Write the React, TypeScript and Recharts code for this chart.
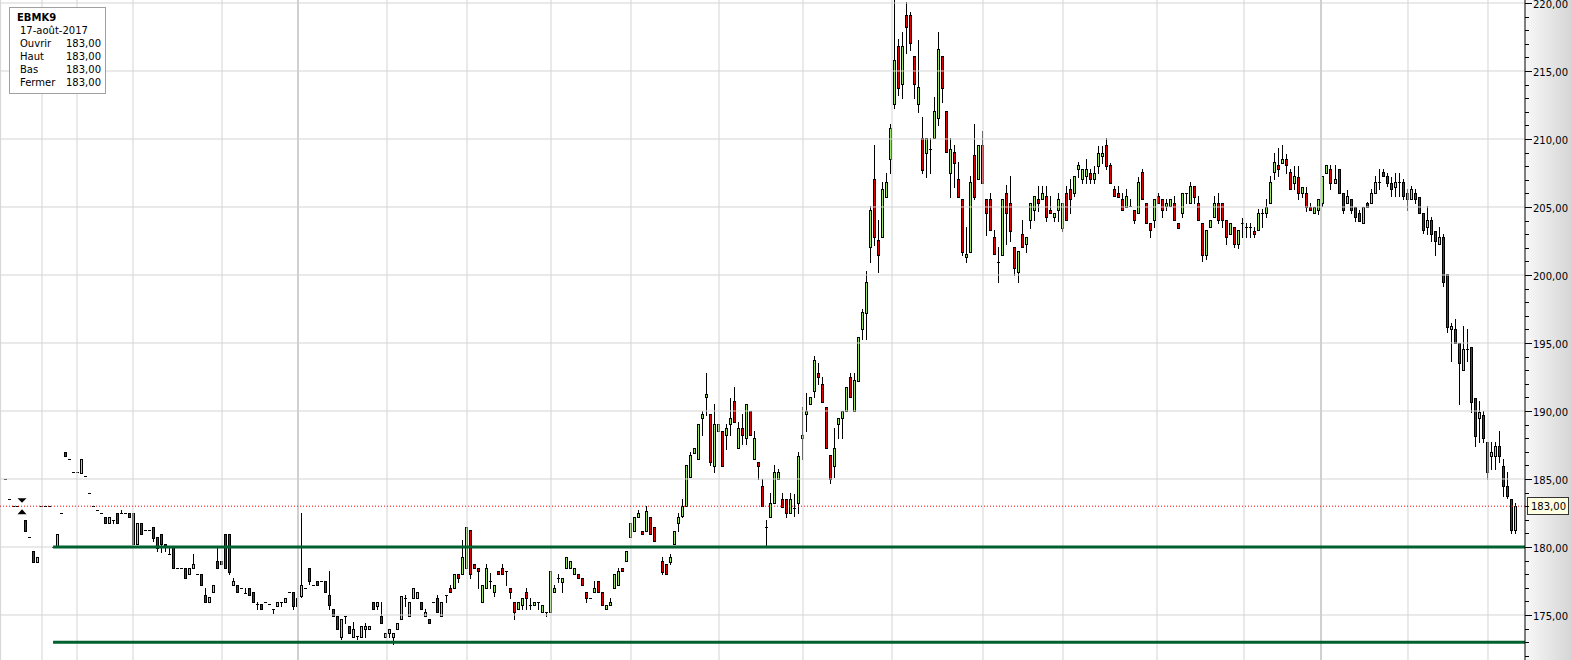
import React from "react";
import {
  ComposedChart,
  Bar,
  XAxis,
  YAxis,
  ReferenceLine,
  ReferenceDot,
} from "recharts";

// EBMK9 daily candles, slot 1 .. 378 (null = no trade)
const opens: (number | null)[] = [
  185, 183.5, 183, 183, null, 182.0, 180.7, 179.7, 178.9, 183,
  183, 183, 180.0, 180.0, 182.48, 186.96, 186.47, 185.51, 185.51, 185.46,
  185.22, 183.99, 183.0, 182.72, 182.48, 182.18, 181.74, 182.0, 182.48, 182.48,
  182.48, 182.48, 182.48, 180.2, 181.74, 181.25, 181.25, 181.45, 180.71, 180.93,
  180.2, 179.5, 180.0, 178.43, 178.43, 178.43, 177.99, 178.43, 178.0, 178.0,
  176.47, 175.93, 176.67, 178.97, 178.97, 180.93, 180.93, 177.18, 177.18, 176.96,
  176.6, 176.96, 176.67, 175.79, 175.79, 175.96, 175.79, 175.42, 175.68, 175.93,
  175.93, 176.67, 176.67, 175.68, 176.42, 176.96, 178.43, 177.2, 177.52, 177.52,
  177.52, 176.47, 175.44, 174.95, 173.4, 174.95, 174.19, 173.4, 173.46, 173.4,
  173.95, 173.95, 175.93, 175.68, 174.95, 173.4, 173.7, 173.4, 173.95, 174.68,
  176.23, 174.95, 176.23, 176.23, 175.93, 174.95, 174.68, 175.93, 176.23, 174.95,
  176.47, 176.96, 176.96, 177.99, 177.99, 178.43, 181.25, 178.75, 178.43, 175.93,
  176.96, 177.52, 176.67, 178.24, 178.43, 178.24, 176.96, 175.93, 175.42, 175.74,
  176.67, 175.74, 175.74, 175.93, 175.2, 175.2, 175.2, 176.67, 177.7, 177.45,
  178.43, 178.43, 177.99, 177.99, 177.7, 176.67, 176.23, 176.67, 177.52, 176.67,
  175.42, 175.74, 176.96, 177.2, 178.43, 178.97, 180.71, 181.2, 182.18, 181.2,
  181.2, 182.18, 181.45, 180.1, 178.97, 178.72, 178.93, 180.2, 181.74, 182.3,
  183.0, 185.17, 186.93, 186.45, 189.46, 191.0, 189.78, 185.98, 188.53, 188.53,
  188.24, 189.04, 190.76, 187.26, 188.73, 187.99, 190.0, 186.45, 186.23, 184.49,
  181.45, 182.18, 183.21, 184.98, 183.5, 183.5, 182.48, 182.9, 183.21, 187.99,
  189.76, 190.51, 191.5, 192.77, 191.99, 190.27, 186.76, 185.98, 189.04, 189.46,
  190.0, 192.48, 190.0, 192.23, 196.0, 197.23, 202.04, 207.06, 202.57, 202.77,
  205.76, 208.5, 212.55, 216.84, 214.02, 219.12, 219.12, 216.1, 212.55, 210.05,
  209.0, 209.3, 210.05, 211.52, 216.1, 212.06, 207.52, 209.02, 207.06, 205.59,
  201.3, 201.71, 208.82, 207.04, 209.56, 205.57, 205.57, 202.77, 200.98, 201.49,
  206.06, 205.27, 202.04, 200.24, 203.01, 202.28, 204.04, 204.78, 205.59, 205.59,
  205.81, 204.78, 204.24, 204.78, 203.49, 206.06, 206.3, 206.06, 207.76, 207.04,
  207.28, 207.52, 207.04, 208.02, 208.75, 209.56, 208.09, 206.3, 206.01, 205.59,
  205.02, 205.07, 204.78, 204.54, 207.55, 205.27, 203.8, 204.04, 205.81, 205.59,
  205.07, 205.07, 205.27, 203.8, 204.54, 206.06, 205.27, 206.54, 205.27, 203.8,
  201.49, 203.5, 204.24, 205.27, 205.27, 204.04, 202.99, 203.5, 202.28, 203.8,
  203.5, 203.5, 203.26, 203.31, 204.54, 204.54, 205.27, 207.55, 208.09, 208.26,
  208.5, 207.55, 206.79, 207.23, 206.01, 206.01, 205.02, 204.54, 204.78, 205.27,
  207.52, 207.77, 206.79, 207.77, 206.06, 205.27, 205.57, 205.02, 204.54, 203.8,
  205.27, 205.27, 206.01, 206.82, 207.55, 207.28, 206.79, 206.5, 206.82, 206.82,
  206.06, 205.57, 206.01, 205.76, 204.54, 203.5, 204.04, 203.26, 202.26, 202.77,
  200.05, 196.01, 196.01, 194.98, 193.01, 194.54, 194.73, 190.98, 189.46, 189.71,
  187.7, 186.71, 186.71, 187.45, 185.98, 184.51, 183.53, 181.25,
];

const closes: (number | null)[] = [
  185, 183.5, 183, 183, null, 181.2, 180.7, 178.9, 179.3, 183,
  183, 183, 180.0, 180.93, 182.48, 186.71, 186.47, 185.51, 185.51, 186.45,
  185.22, 183.99, 183.0, 182.72, 182.48, 181.74, 182.18, 182.0, 181.74, 182.48,
  182.48, 182.18, 180.2, 181.74, 180.93, 181.25, 181.25, 180.69, 179.9, 180.2,
  180.05, 179.5, 178.43, 178.43, 178.43, 177.7, 178.43, 178.72, 178.0, 177.18,
  175.93, 176.3, 177.18, 178.43, 178.72, 178.43, 178.18, 177.52, 176.67, 176.96,
  176.6, 176.45, 175.93, 175.79, 175.42, 175.96, 175.79, 175.42, 175.93, 175.93,
  176.23, 176.67, 175.68, 176.23, 177.18, 176.96, 177.52, 177.2, 177.2, 177.52,
  176.67, 175.74, 174.95, 173.95, 174.68, 174.95, 173.7, 173.95, 173.46, 174.19,
  174.19, 174.19, 175.42, 175.93, 174.43, 173.7, 173.95, 173.7, 174.43, 176.42,
  176.23, 175.93, 176.96, 176.67, 175.42, 175.2, 174.43, 175.93, 175.2, 175.93,
  176.47, 176.67, 177.99, 177.7, 179.29, 181.45, 177.99, 178.43, 178.24, 177.2,
  178.43, 177.52, 177.2, 177.99, 177.99, 178.24, 176.67, 175.2, 175.93, 176.23,
  176.23, 175.74, 175.93, 175.93, 175.74, 175.2, 178.24, 176.96, 177.7, 177.7,
  179.24, 178.99, 178.43, 177.7, 177.2, 176.23, 176.23, 176.96, 176.67, 175.74,
  175.74, 175.93, 177.99, 178.24, 178.24, 179.71, 181.74, 182.18, 182.48, 180.93,
  182.67, 180.93, 180.46, 180.1, 178.18, 177.99, 179.24, 181.2, 182.18, 183.0,
  186.03, 186.76, 187.26, 189.04, 189.78, 191.25, 186.23, 189.04, 189.04, 185.98,
  188.73, 189.46, 189.21, 188.73, 188.24, 190.51, 188.24, 187.99, 185.98, 183.0,
  181.45, 183.21, 185.49, 185.49, 182.96, 182.48, 183.5, 182.9, 186.71, 188.24,
  190.0, 191.0, 193.75, 192.48, 190.68, 187.26, 184.98, 187.26, 189.46, 190.0,
  191.74, 191.0, 192.28, 195.46, 197.25, 199.51, 204.78, 202.77, 201.47, 206.32,
  206.82, 210.78, 215.81, 213.77, 216.84, 218.26, 217.04, 214.02, 213.8, 207.72,
  210.05, 209.3, 212.06, 216.6, 213.77, 209.02, 209.3, 208.26, 205.76, 201.71,
  201.54, 206.82, 205.76, 209.56, 206.79, 204.54, 203.31, 201.54, 200.98, 205.59,
  204.54, 203.26, 200.49, 201.76, 202.04, 202.77, 205.27, 205.81, 205.27, 206.06,
  204.24, 204.54, 204.54, 205.59, 205.27, 204.04, 205.59, 207.28, 208.09, 207.76,
  207.76, 207.04, 207.52, 209.0, 209.0, 208.02, 206.79, 205.81, 205.76, 204.78,
  205.81, 205.07, 204.04, 206.82, 205.57, 203.8, 203.31, 205.59, 205.27, 204.78,
  205.32, 205.59, 204.04, 203.49, 206.06, 206.06, 206.54, 205.76, 204.04, 201.49,
  203.31, 204.04, 205.27, 204.04, 204.04, 202.77, 203.8, 202.28, 203.31, 203.8,
  203.5, 203.5, 202.99, 204.54, 204.54, 205.02, 206.82, 208.29, 207.77, 208.5,
  208.09, 206.3, 207.28, 206.01, 206.5, 205.02, 204.78, 205.02, 205.57, 207.28,
  208.09, 206.79, 207.04, 206.06, 204.78, 205.81, 204.78, 204.24, 203.99, 205.02,
  205.02, 206.01, 206.82, 206.82, 207.28, 206.79, 206.3, 206.82, 206.82, 205.81,
  205.57, 206.3, 205.57, 204.54, 203.31, 204.04, 202.99, 202.52, 202.77, 199.51,
  196.2, 196.25, 194.98, 193.51, 194.54, 194.54, 190.68, 188.18, 189.95, 187.99,
  185.49, 186.96, 187.45, 186.71, 184.51, 183.77, 181.25, 183.0,
];

// null = wick ends at the body
const highs: (number | null)[] = [
  null, null, null, null, null, null, null, null, null, null,
  null, null, null, null, null, null, null, null, null, null,
  null, null, null, null, null, null, null, null, null, 182.72,
  null, null, null, null, null, null, null, null, null, null,
  null, 180.0, null, null, null, null, null, 179.46, null, null,
  176.96, null, null, 179.95, null, null, null, 177.74, null, null,
  176.96, null, null, 175.93, null, null, null, null, null, null,
  null, null, null, null, 182.52, null, null, null, null, null,
  null, 178.24, null, null, null, null, null, 174.49, null, null,
  174.43, null, null, null, 175.93, null, null, null, null, null,
  176.47, null, null, null, null, 175.42, null, null, 176.47, null,
  null, 177.2, null, null, 180.51, null, null, null, null, null,
  178.75, 178.1, null, null, 178.75, null, null, null, null, null,
  176.96, 176.23, null, null, null, null, null, 177.2, 178.0, null,
  null, null, null, null, null, null, null, 177.52, null, null,
  null, 176.23, null, 178.43, null, null, null, null, 182.72, null,
  183.0, null, null, null, 179.24, null, 179.46, null, 182.48, 183.5,
  null, 187.0, null, null, 190.0, 192.82, null, 190.5, null, null,
  189.04, 190.97, 191.76, 189.2, 189.78, null, null, 188.53, null, 185.0,
  181.99, 183.95, 186.03, 185.7, 184.0, null, 184.0, 183.9, 187.0, 190.32,
  191.3, null, 194.04, 193.5, 192.48, null, null, 188.73, null, null,
  null, 192.77, 192.77, null, 197.5, 200.29, 205.07, 209.56, 204.04, 206.82,
  207.52, 211.08, 220.2, 217.33, 217.85, 220.05, 219.32, null, 217.3, 211.6,
  null, 210.05, 213.09, 217.85, null, null, 210.05, 209.56, 208.29, null,
  203.55, 207.28, 211.08, null, 210.59, null, 206.06, 203.31, 202.04, null,
  206.6, 207.28, null, null, 204.04, null, null, null, 206.54, 206.54,
  206.54, 205.81, null, 206.06, null, 206.54, 207.04, null, 208.33, null,
  208.5, 207.76, 208.02, 209.49, 209.49, 210.05, 208.26, 206.54, 206.54, 206.06,
  206.3, 205.59, null, 207.23, 207.77, null, null, null, 206.06, null,
  205.59, null, 205.81, null, null, null, 206.86, null, 205.81, null,
  null, null, 205.81, 206.06, null, null, null, null, null, 204.17,
  203.8, 203.8, 203.5, 204.83, 204.83, 205.57, 207.28, 208.95, 209.32, 209.56,
  208.9, 207.77, 208.02, 208.0, null, 206.5, 205.32, null, null, null,
  null, 208.09, 208.09, null, null, 206.25, null, null, 204.78, null,
  205.4, 206.3, 207.28, 207.77, 207.77, 207.52, 207.23, 207.52, 207.52, 207.04,
  206.3, 206.54, 206.3, null, null, 205.07, 204.29, null, 203.51, 203.01,
  null, 196.49, 196.74, null, 196.25, 196.01, null, null, 190.74, 190.0,
  null, 187.7, 187.7, 188.53, 186.47, 185.49, null, 183.21,
];

const lows: (number | null)[] = [
  null, null, null, null, null, null, null, null, null, null,
  null, null, null, null, null, null, null, null, null, null,
  null, null, null, null, null, null, null, 181.74, null, null,
  null, null, null, null, null, null, null, 180.46, 179.7, 179.66,
  179.7, null, null, null, null, null, null, null, null, null,
  null, null, null, null, null, null, 177.99, null, null, null,
  null, null, null, 175.42, null, null, null, 175.17, null, 175.68,
  null, null, 175.42, null, 176.3, null, 177.28, null, null, null,
  null, 175.42, null, null, 173.2, 174.43, null, null, 173.21, null,
  173.4, null, null, 175.42, null, null, 173.4, 172.9, null, null,
  175.66, null, null, null, null, null, null, null, null, null,
  175.93, null, null, 177.45, null, null, 177.7, null, 176.96, null,
  null, 176.96, 176.42, null, null, 177.2, 176.23, 174.68, null, 175.42,
  175.42, 175.42, null, 175.42, null, 174.95, null, null, 177.45, 176.67,
  null, null, null, null, null, 175.93, null, null, null, null,
  null, null, null, null, null, null, null, null, null, null,
  null, null, null, null, 178.0, null, 178.72, null, 181.2, 182.2,
  null, null, null, null, 188.24, 189.7, 186.0, 185.5, null, null,
  187.2, 188.2, null, null, 187.6, 187.6, null, null, 184.98, null,
  180.0, null, null, null, null, 182.18, null, 182.3, 182.5, 186.45,
  188.5, null, 191.05, 191.96, null, null, 184.73, 185.17, 187.99, 188.0,
  null, null, null, null, 195.27, 195.27, 200.98, 202.2, 200.24, null,
  null, 207.52, 212.3, 213.24, 213.04, 216.3, 216.54, 213.04, 212.0, 207.47,
  207.23, 207.52, null, 211.03, 212.74, null, 205.76, 206.5, null, 201.47,
  200.98, null, 205.57, null, null, 202.94, null, null, 199.51, null,
  202.28, 202.52, 200.0, 199.51, null, 201.71, 203.49, 204.04, 204.73, null,
  203.95, null, 203.95, 203.95, 203.26, null, 204.54, 205.81, 207.23, 206.8,
  206.8, 206.8, 206.8, 207.52, 208.26, 207.77, null, null, null, null,
  null, null, 203.8, null, null, null, 202.77, 203.5, null, 204.3,
  204.78, null, null, null, 204.3, 205.3, null, 205.27, null, 201.0,
  201.2, null, null, 203.8, 203.5, 202.28, null, 202.04, 201.96, 202.77,
  202.77, 202.77, 202.77, null, 203.5, 204.24, null, 207.04, 207.28, null,
  207.52, null, 206.3, 205.57, 205.76, 204.73, null, null, 204.5, 205.07,
  null, 206.3, null, null, 204.54, null, 204.54, 203.99, null, null,
  null, null, null, 206.3, null, 206.54, 205.81, 205.81, 205.81, 205.57,
  204.78, null, 205.27, null, 203.06, 203.0, 202.52, 201.47, null, 199.19,
  195.81, 193.68, null, 190.49, null, 193.68, 189.95, 187.45, 187.7, 187.7,
  184.98, 185.74, 185.74, 186.23, 183.77, 183.63, 181.01, 181.0,
];

const priceTicks = [
  172, 173, 174, 175, 176, 177, 178, 179, 180, 181, 182, 183, 184, 185, 186,
  187, 188, 189, 190, 191, 192, 193, 194, 195, 196, 197, 198, 199, 200, 201,
  202, 203, 204, 205, 206, 207, 208, 209, 210, 211, 212, 213, 214, 215, 216,
  217, 218, 219, 220,
];
const gridPrices = [175, 180, 185, 190, 195, 200, 205, 210, 215, 220];
const gridSlots = [
  -0.1, 10.24, 18.98, 32.96, 55.19, 96.39, 116.37, 137.35, 157.32, 179.3,
  200.27, 222.5, 245.22, 265.2, 288.67, 310.4, 351.35, 371.33,
];
const yearSlots = [74.17, 329.63];

const SUPPORT_HIGH = 180;
const SUPPORT_LOW = 173;
const SUPPORT_START = 13;
const LAST_PRICE = 183;

const X_MIN = -0.25;
const X_MAX = 380.57;
const Y_MIN = 171.69;
const Y_MAX = 220.22;

const GREEN = "#9ae866";
const RED = "#e00000";
const LINE_GREEN = "#00602e";
const FONT = "Tahoma, 'DejaVu Sans', sans-serif";

const fmt = (v: number) => v.toFixed(2).replace(".", ",");

const data = opens
  .map((o, i) => {
    const c = closes[i];
    if (o == null || c == null) return null;
    const h = Math.max(highs[i] ?? o, o, c);
    const l = Math.min(lows[i] ?? o, o, c);
    return { k: i + 1, o, h, l, c };
  })
  .filter(Boolean) as { k: number; o: number; h: number; l: number; c: number }[];

const Candle = (props: any) => {
  const { x, y, width, height } = props;
  const p = props.payload ?? props;
  const { o, h, l, c } = p;
  const span = h - l;
  const toY = (v: number) => (span > 0 ? y + ((h - v) / span) * height : y);
  const left = Math.floor(x + width / 2) - 1;
  const mid = left + 1.5;
  const top = Math.round(toY(Math.max(o, c)));
  const bot = Math.round(toY(Math.min(o, c)));
  const wTop = Math.round(toY(h));
  const wBot = Math.round(toY(l));
  const fill = c > o ? GREEN : RED;
  return (
    <g>
      {wBot > wTop && (
        <line x1={mid} x2={mid} y1={wTop} y2={wBot + 1} stroke="#000" strokeWidth={1} />
      )}
      {bot - top >= 2 ? (
        <rect x={left + 0.5} y={top + 0.5} width={2} height={bot - top} fill={fill} stroke="#000" strokeWidth={1} />
      ) : (
        <line x1={left} x2={left + 3} y1={top + 0.5} y2={top + 0.5} stroke="#000" strokeWidth={1} />
      )}
    </g>
  );
};

const PriceTick = ({ x, y, payload }: any) => {
  const v = payload.value as number;
  const major = v % 5 === 0;
  const yy = Math.round(y) + 0.5;
  return (
    <g>
      <line x1={x} x2={x + (major ? 7 : 4)} y1={yy} y2={yy} stroke="#000" strokeWidth={1} />
      {major && (
        <text x={x + 8} y={yy} dy={4} fontSize={10} fontFamily={FONT} fill="#000">
          {fmt(v)}
        </text>
      )}
    </g>
  );
};

const RollMarker = ({ cx, cy }: any) => (
  <g fill="#000">
    <path d={`M${cx - 4.5},${cy - 8} L${cx + 4.5},${cy - 8} L${cx},${cy - 3.5} Z`} />
    <path d={`M${cx},${cy + 3} L${cx + 4.5},${cy + 8} L${cx - 4.5},${cy + 8} Z`} />
  </g>
);

const PriceTag = ({ cx, cy }: any) => (
  <g>
    <rect x={cx + 2.5} y={Math.round(cy) - 8.5} width={41} height={17} fill="#ffffe1" stroke="#333" strokeWidth={1} />
    <text x={cx + 6} y={Math.round(cy) + 4} fontSize={10} fontFamily={FONT} fill="#000">
      {fmt(LAST_PRICE)}
    </text>
  </g>
);

const legendRows = [
  ["Ouvrir", fmt(183)],
  ["Haut", fmt(183)],
  ["Bas", fmt(183)],
  ["Fermer", fmt(183)],
];

export default function App() {
  return (
    <div style={{ position: "absolute", left: 0, top: 0, width: 1571, height: 660, background: "#fff", fontFamily: FONT, overflow: "hidden" }}>
      <div
        style={{
          position: "absolute",
          left: 1525,
          top: 0,
          width: 46,
          height: 660,
          background: "linear-gradient(to right, #f8f8f8, #d6d6d6)",
        }}
      />
      <div style={{ position: "absolute", left: 0, top: 0 }}>
        <ComposedChart width={1571} height={660} data={data} margin={{ top: 0, right: 0, bottom: 0, left: 0 }}>
          <XAxis dataKey="k" type="number" domain={[X_MIN, X_MAX]} allowDataOverflow hide />
          <YAxis
            orientation="right"
            width={46}
            type="number"
            domain={[Y_MIN, Y_MAX]}
            allowDataOverflow
            ticks={priceTicks}
            interval={0}
            tick={<PriceTick />}
            tickLine={false}
            tickSize={0}
            tickMargin={0}
            axisLine={{ stroke: "#000" }}
          />
          {gridPrices.map((v) => (
            <ReferenceLine key={"h" + v} y={v} stroke="#d4d4d4" strokeWidth={1} />
          ))}
          {gridSlots.map((v) => (
            <ReferenceLine key={"v" + v} x={v} stroke="#d4d4d4" strokeWidth={1} />
          ))}
          {yearSlots.map((v) => (
            <ReferenceLine key={"yr" + v} x={v} stroke="#d0d0d0" strokeWidth={2} />
          ))}
          <Bar
            dataKey={(d: any) => [d.l, d.h]}
            barSize={3}
            shape={<Candle />}
            isAnimationActive={false}
          />
          <ReferenceLine y={LAST_PRICE} stroke="#ff0000" strokeWidth={1} strokeDasharray="1 2" />
          <ReferenceLine
            segment={[{ x: SUPPORT_START, y: SUPPORT_HIGH }, { x: X_MAX, y: SUPPORT_HIGH }]}
            stroke={LINE_GREEN}
            strokeWidth={3}
          />
          <ReferenceLine
            segment={[{ x: SUPPORT_START, y: SUPPORT_LOW }, { x: X_MAX, y: SUPPORT_LOW }]}
            stroke={LINE_GREEN}
            strokeWidth={3}
          />
          <ReferenceDot x={5.25} y={LAST_PRICE} r={0} shape={<RollMarker />} />
          <ReferenceDot x={X_MAX} y={LAST_PRICE} r={0} ifOverflow="visible" shape={<PriceTag />} />
        </ComposedChart>
      </div>
      <div
        style={{
          position: "absolute",
          left: 9,
          top: 7,
          width: 95,
          height: 82,
          border: "1px solid #a0a0a0",
          background: "#fff",
          fontSize: 10,
          lineHeight: "13px",
          color: "#000",
          paddingTop: 3,
          boxSizing: "content-box",
        }}
      >
        <div style={{ paddingLeft: 7, fontWeight: "bold" }}>EBMK9</div>
        <div style={{ paddingLeft: 10 }}>17-août-2017</div>
        {legendRows.map(([label, value]) => (
          <div key={label} style={{ paddingLeft: 10, display: "flex" }}>
            <span style={{ width: 46 }}>{label}</span>
            <span>{value}</span>
          </div>
        ))}
      </div>
    </div>
  );
}
